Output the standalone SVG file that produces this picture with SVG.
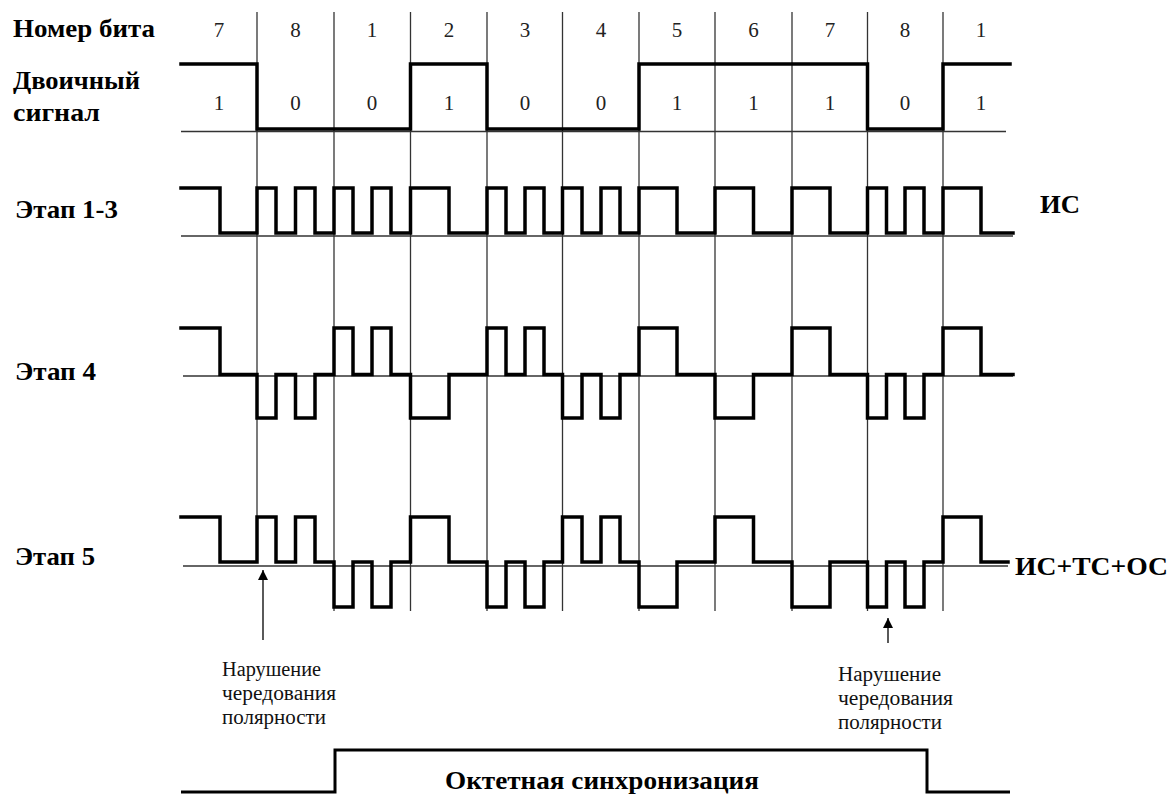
<svg xmlns="http://www.w3.org/2000/svg" width="1172" height="796" viewBox="0 0 1172 796">
<defs>
<style>
.lbl{font-family:"Liberation Serif","Times New Roman",serif;font-weight:bold;font-size:26px;fill:#000}
.num{font-family:"Liberation Serif","Times New Roman",serif;font-size:21px;fill:#222;text-anchor:middle}
.note{font-family:"Liberation Serif","Times New Roman",serif;font-size:20px;fill:#111}
.sig{fill:none;stroke:#000;stroke-width:3.5;stroke-linejoin:miter;stroke-linecap:square}
.thin{fill:none;stroke:#333;stroke-width:1.3}
.arr{fill:none;stroke:#000;stroke-width:1.3}
</style>
<marker id="ah" viewBox="0 0 10 12" refX="10" refY="6" markerWidth="10" markerHeight="12" markerUnits="userSpaceOnUse" orient="auto">
<path d="M0,1 L10,6 L0,11 Z" fill="#000"/>
</marker>
</defs>
<rect width="1172" height="796" fill="#fff"/>

<g id="grid">
<line class="thin" x1="257" y1="12" x2="257" y2="562"/>
<line class="thin" x1="334" y1="12" x2="334" y2="611"/>
<line class="thin" x1="410.5" y1="12" x2="410.5" y2="611"/>
<line class="thin" x1="487" y1="12" x2="487" y2="611"/>
<line class="thin" x1="562.5" y1="12" x2="562.5" y2="611"/>
<line class="thin" x1="639" y1="12" x2="639" y2="611"/>
<line class="thin" x1="715" y1="12" x2="715" y2="611"/>
<line class="thin" x1="792" y1="12" x2="792" y2="611"/>
<line class="thin" x1="867.5" y1="12" x2="867.5" y2="611"/>
<line class="thin" x1="943" y1="12" x2="943" y2="611"/>
<line class="thin" x1="181" y1="131.5" x2="1006" y2="131.5"/>
<line class="thin" x1="181" y1="236" x2="1013" y2="236"/>
<line class="thin" x1="183" y1="376" x2="1013" y2="376"/>
<line class="thin" x1="183" y1="566" x2="1008" y2="566"/>
</g>

<g id="row-bitnum">
<text class="lbl" x="13" y="37" textLength="142" lengthAdjust="spacingAndGlyphs">Номер бита</text>
<text class="num" x="219" y="37">7</text>
<text class="num" x="295.5" y="37">8</text>
<text class="num" x="372" y="37">1</text>
<text class="num" x="449" y="37">2</text>
<text class="num" x="525" y="37">3</text>
<text class="num" x="601" y="37">4</text>
<text class="num" x="677" y="37">5</text>
<text class="num" x="753.5" y="37">6</text>
<text class="num" x="830" y="37">7</text>
<text class="num" x="905" y="37">8</text>
<text class="num" x="981" y="37">1</text>
</g>

<g id="row-binary">
<text class="lbl" x="13" y="89" textLength="127" lengthAdjust="spacingAndGlyphs">Двоичный</text>
<text class="lbl" x="13" y="121" textLength="87" lengthAdjust="spacingAndGlyphs">сигнал</text>
<path class="sig" d="M181,64 H257 V129 H410.5 V64 H487 V129 H639 V64 H867.5 V129 H943 V64 H1010"/>
<text class="num" x="219" y="110">1</text>
<text class="num" x="295.5" y="110">0</text>
<text class="num" x="372" y="110">0</text>
<text class="num" x="449" y="110">1</text>
<text class="num" x="525" y="110">0</text>
<text class="num" x="601" y="110">0</text>
<text class="num" x="677" y="110">1</text>
<text class="num" x="753.5" y="110">1</text>
<text class="num" x="830" y="110">1</text>
<text class="num" x="905" y="110">0</text>
<text class="num" x="981" y="110">1</text>
</g>

<g id="row-stage13">
<text class="lbl" x="15" y="218" textLength="103" lengthAdjust="spacingAndGlyphs">Этап 1-3</text>
<path class="sig" d="M181,188 H220 V233 H257 V188 H276 V233 H295.5 V188 H315 V233 H334 V188 H353 V233 H372 V188 H391 V233 H410.5 V188 H449 V233 H487 V188 H506 V233 H525 V188 H544 V233 H562.5 V188 H582 V233 H601 V188 H620 V233 H639 V188 H677 V233 H715 V188 H753.5 V233 H792 V188 H830 V233 H867.5 V188 H886.5 V233 H905 V188 H924 V233 H943 V188 H981 V233 H1013"/>
<text class="lbl" x="1040" y="213" textLength="40" lengthAdjust="spacingAndGlyphs">ИС</text>
</g>

<g id="row-stage4">
<text class="lbl" x="15" y="380" textLength="81" lengthAdjust="spacingAndGlyphs">Этап 4</text>
<path class="sig" d="M181,328 H220 V374.5 H257 V418 H276 V374.5 H295.5 V418 H315 V374.5 H334 V328 H353 V374.5 H372 V328 H391 V374.5 H410.5 V418 H449 V374.5 H487 V328 H506 V374.5 H525 V328 H544 V374.5 H562.5 V418 H582 V374.5 H601 V418 H620 V374.5 H639 V328 H677 V374.5 H715 V418 H753.5 V374.5 H792 V328 H830 V374.5 H867.5 V418 H886.5 V374.5 H905 V418 H924 V374.5 H943 V328 H981 V374.5 H1013"/>
</g>

<g id="row-stage5">
<text class="lbl" x="15" y="565" textLength="80" lengthAdjust="spacingAndGlyphs">Этап 5</text>
<path class="sig" d="M181,517 H220 V562 H257 V517 H276 V562 H295.5 V517 H315 V562 H334 V607 H353 V562 H372 V607 H391 V562 H410.5 V517 H449 V562 H487 V607 H506 V562 H525 V607 H544 V562 H562.5 V517 H582 V562 H601 V517 H620 V562 H639 V607 H677 V562 H715 V517 H753.5 V562 H792 V607 H830 V562 H867.5 V607 H886.5 V562 H905 V607 H924 V562 H943 V517 H981 V562 H1008"/>
<text class="lbl" x="1015" y="575" textLength="153" lengthAdjust="spacingAndGlyphs">ИС+ТС+ОС</text>
</g>

<g id="note-left">
<text class="note" x="222" y="676" textLength="99" lengthAdjust="spacingAndGlyphs">Нарушение</text>
<text class="note" x="222" y="700" textLength="114" lengthAdjust="spacingAndGlyphs">чередования</text>
<text class="note" x="222" y="724" textLength="104" lengthAdjust="spacingAndGlyphs">полярности</text>
</g>

<g id="note-right">
<text class="note" x="838" y="681" textLength="103" lengthAdjust="spacingAndGlyphs">Нарушение</text>
<text class="note" x="838" y="705" textLength="115" lengthAdjust="spacingAndGlyphs">чередования</text>
<text class="note" x="838" y="729" textLength="104" lengthAdjust="spacingAndGlyphs">полярности</text>
</g>

<g id="octet-sync">
<path fill="none" stroke="#000" stroke-width="3" d="M181,792 H335 V750 H927 V792 H1010"/>
<text class="lbl" x="445" y="789" textLength="314" lengthAdjust="spacingAndGlyphs">Октетная синхронизация</text>
</g>

<g id="connectors">
<line class="arr" x1="263" y1="640" x2="263" y2="570" marker-end="url(#ah)"/>
<line class="arr" x1="888" y1="643" x2="888" y2="618" marker-end="url(#ah)"/>
</g>
</svg>
